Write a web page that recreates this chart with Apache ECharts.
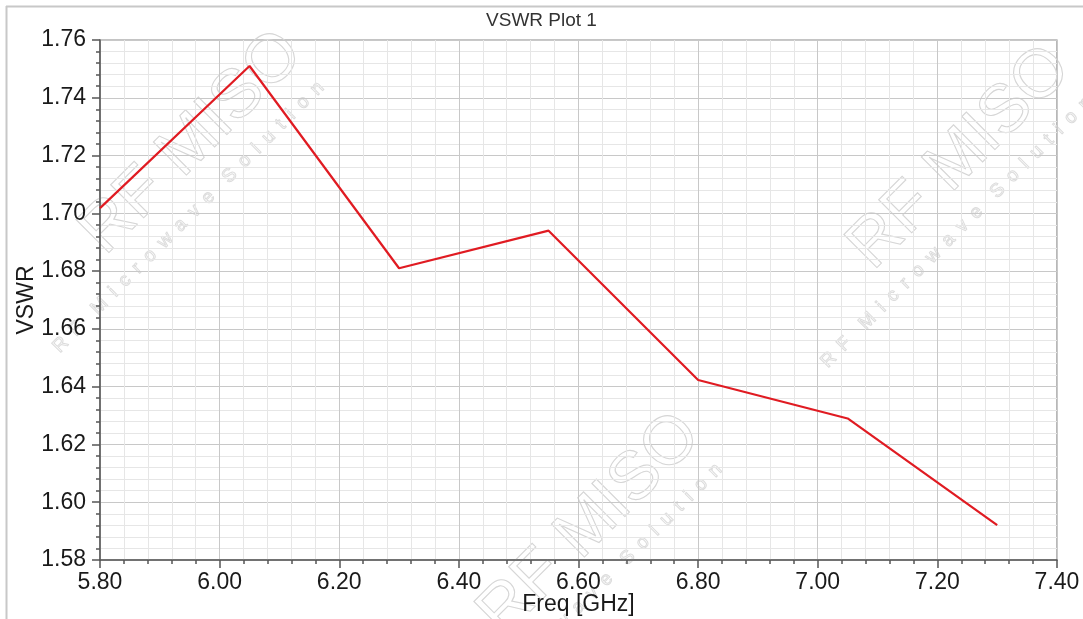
<!DOCTYPE html>
<html>
<head>
<meta charset="utf-8">
<script src="https://cdn.jsdelivr.net/npm/echarts@6/dist/echarts.min.js"></script>
<style>
html,body{margin:0;padding:0;background:#fff;}
#c{width:1083px;height:619px;}
</style>
</head>
<body>
<div id="c"></div>
<script>
const freq = [5.80, 6.05, 6.30, 6.55, 6.80, 7.05, 7.30];
const vswr = [1.7018, 1.7510, 1.6810, 1.6940, 1.6423, 1.6290, 1.5921];
const titleText = 'VSWR Plot 1';
const xName = 'Freq [GHz]';
const yName = 'VSWR';
const wmMain = 'RF MISO';
const wmSub = 'R\u2002F\u2002\u2002M\u2002i\u2002c\u2002r\u2002o\u2002w\u2002a\u2002v\u2002e\u2002\u2002S\u2002o\u2002l\u2002u\u2002t\u2002i\u2002o\u2002n';

const font = 'Liberation Sans, Arial, sans-serif';

function watermark(cx, cy) {
  return {
    type: 'group', x: cx, y: cy, rotation: Math.PI / 4, silent: true, z: 0,
    children: [
      {type: 'text', x: 0, y: 0, style: {text: wmMain, fontFamily: font, fontSize: 68,
        fill: 'rgba(255,255,255,0)', stroke: '#d6d6d6', lineWidth: 1.1, align: 'center', verticalAlign: 'middle'}},
      {type: 'text', x: -55, y: 50, style: {text: wmSub, fontFamily: font, fontSize: 19,
        fill: 'rgba(255,255,255,0)', stroke: '#dcdcdc', lineWidth: 1, align: 'center', verticalAlign: 'middle'}}
    ]
  };
}

const chart = echarts.init(document.getElementById('c'));
chart.setOption({
  backgroundColor: '#ffffff',
  animation: false,
  title: {
    text: titleText, left: 'center', top: 6,
    textStyle: {fontFamily: font, fontSize: 19, fontWeight: 'normal', color: '#333'}
  },
  graphic: [
    {type: 'line', shape: {x1: 6, y1: 6.5, x2: 1083, y2: 6.5}, style: {stroke: '#c8c8c8', lineWidth: 2}, z: 100},
    {type: 'line', shape: {x1: 6.5, y1: 6, x2: 6.5, y2: 619}, style: {stroke: '#c8c8c8', lineWidth: 2}, z: 100},
    watermark(192, 143),
    watermark(960, 158),
    watermark(590, 525)
  ],
  grid: {left: 100, top: 40, right: 26, bottom: 59, outerBoundsMode: 'none', containLabel: false,
    show: true, borderColor: '#8a8a8a', borderWidth: 1.2, backgroundColor: 'rgba(0,0,0,0)'},
  xAxis: {
    type: 'value', min: 5.8, max: 7.4, interval: 0.2,
    name: xName, nameLocation: 'middle', nameGap: 33, nameMoveOverlap: false,
    nameTextStyle: {fontFamily: font, fontSize: 23, color: '#1a1a1a'},
    axisLine: {show: true, onZero: false, lineStyle: {color: '#555', width: 1.5}},
    axisTick: {show: true, length: 8, inside: false, lineStyle: {color: '#555', width: 1.5}},
    minorTick: {show: true, splitNumber: 5, length: 4, lineStyle: {color: '#555', width: 1.5}},
    axisLabel: {fontFamily: font, fontSize: 23, color: '#1a1a1a', margin: 11, formatter: v => v.toFixed(2)},
    splitLine: {show: true, lineStyle: {color: '#c8c8c8', width: 1}},
    minorSplitLine: {show: true, lineStyle: {color: '#e6e6e6', width: 1}}
  },
  yAxis: {
    type: 'value', min: 1.58, max: 1.76, interval: 0.02,
    name: yName, nameLocation: 'middle', nameGap: 62, nameRotate: 90, nameMoveOverlap: false,
    nameTextStyle: {fontFamily: font, fontSize: 23, color: '#1a1a1a'},
    axisLine: {show: true, onZero: false, lineStyle: {color: '#555', width: 1.5}},
    axisTick: {show: true, length: 8, inside: false, lineStyle: {color: '#555', width: 1.5}},
    minorTick: {show: true, splitNumber: 5, length: 4, lineStyle: {color: '#555', width: 1.5}},
    axisLabel: {fontFamily: font, fontSize: 23, color: '#1a1a1a', margin: 14, formatter: v => v.toFixed(2)},
    splitLine: {show: true, lineStyle: {color: '#c8c8c8', width: 1}},
    minorSplitLine: {show: true, lineStyle: {color: '#e6e6e6', width: 1}}
  },
  series: [{
    type: 'line',
    data: freq.map((f, i) => [f, vswr[i]]),
    showSymbol: false,
    z: 5,
    lineStyle: {color: '#e01b22', width: 2.2}
  }]
});
</script>
</body>
</html>
